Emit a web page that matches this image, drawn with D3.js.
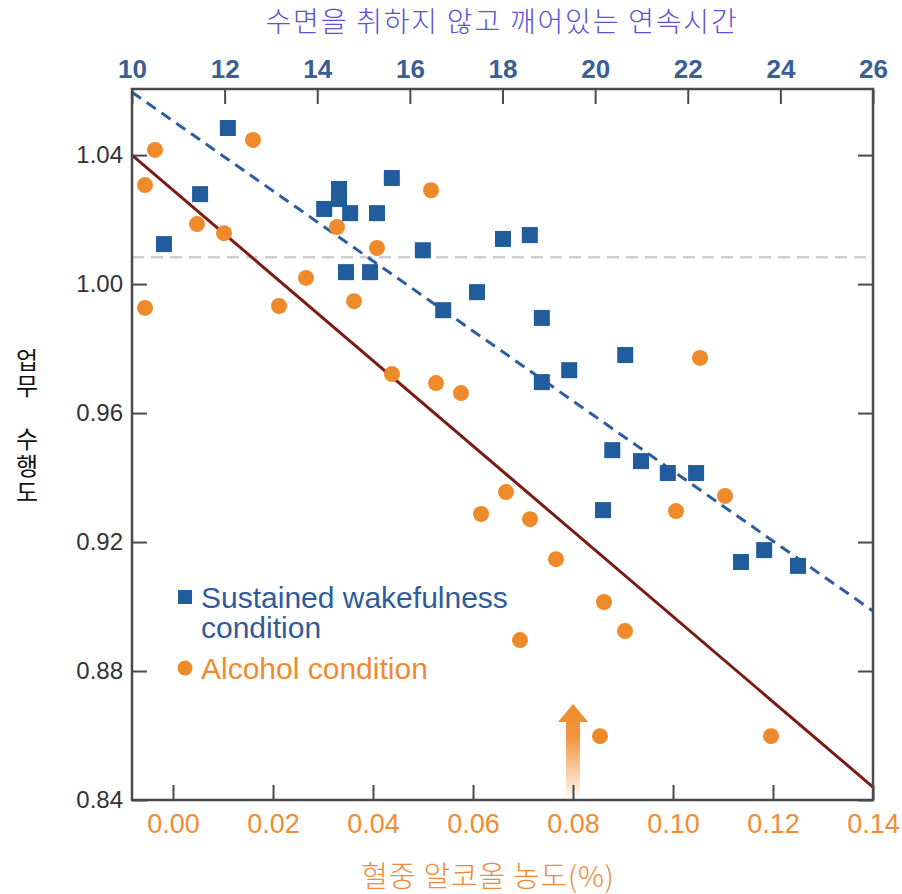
<!DOCTYPE html>
<html><head><meta charset="utf-8">
<script src="https://cdn.jsdelivr.net/npm/d3@7"></script>
<style>
html,body{margin:0;padding:0;background:#fff;}
svg{display:block;}
</style></head>
<body>
<svg id="chart" width="902" height="894"></svg>
<script>
// ---- data ----
const wakeHours = [10.69, 11.47, 12.07, 14.15, 14.47, 14.47, 14.71, 15.29, 15.61, 14.62, 15.14, 16.28, 16.72, 17.45, 18.01, 18.59, 18.85, 18.85, 19.44, 20.65, 20.37, 20.99, 21.57, 22.18, 20.17, 23.15, 23.65, 24.38];
const wakePerf  = [1.0124, 1.0279, 1.0484, 1.0233, 1.0295, 1.0264, 1.0220, 1.0220, 1.0329, 1.0037, 1.0037, 1.0105, 0.9919, 0.9975, 1.0140, 1.0152, 0.9895, 0.9696, 0.9733, 0.9780, 0.9485, 0.9451, 0.9414, 0.9414, 0.9299, 0.9138, 0.9175, 0.9126];
const alcBAC  = [-0.0036, -0.0056, 0.0048, 0.0102, 0.0160, -0.0056, 0.0212, 0.0266, 0.0328, 0.0362, 0.0408, 0.0516, 0.0438, 0.0526, 0.0576, 0.0666, 0.0616, 0.0714, 0.0766, 0.0862, 0.0904, 0.0694, 0.0854, 0.1196, 0.1006, 0.1104, 0.1054];
const alcPerf = [1.0416, 1.0307, 1.0186, 1.0158, 1.0447, 0.9926, 0.9932, 1.0019, 1.0177, 0.9947, 1.0112, 1.0291, 0.9721, 0.9693, 0.9662, 0.9355, 0.9287, 0.9271, 0.9147, 0.9014, 0.8924, 0.8896, 0.8598, 0.8598, 0.9296, 0.9343, 0.9771];
const wakeFitHours = [10, 26];
const wakeFitPerf  = [1.0595, 0.8986];
const alcFitBAC  = [-0.0082, 0.14];
const alcFitPerf = [1.0400, 0.8440];
const baselinePerf = 1.0083;
const arrowBAC = 0.08;
const arrowPerf = [0.8405, 0.8698];
const hourTicks = [10, 12, 14, 16, 18, 20, 22, 24, 26];
const bacTicks  = [0.00, 0.02, 0.04, 0.06, 0.08, 0.10, 0.12, 0.14];
const perfTicks = [0.84, 0.88, 0.92, 0.96, 1.00, 1.04];
const topTitle = "수면을 취하지 않고 깨어있는 연속시간";
const bottomTitle = "혈중 알코올 농도(%)";
const yTitle = "업무 수행도";
const legendWake = ["Sustained wakefulness", "condition"];
const legendAlc = "Alcohol condition";

// ---- layout ----
const L = 132, R = 873, T = 89, B = 800;
const svg = d3.select("#chart");
const xB = d3.scaleLinear().domain([-0.0082, 0.14]).range([L, R]);
const xH = d3.scaleLinear().domain([10, 26]).range([L, R]);
const y  = d3.scaleLinear().domain([0.84, 1.0605]).range([B, T]);

const numFont = "'Liberation Sans',Arial,sans-serif";
const cjkFont = "'Noto Sans CJK KR','Noto Sans',sans-serif";
const blue = "#215c9c", orange = "#ef8a2a";

// arrow gradient
const defs = svg.append("defs");
const grad = defs.append("linearGradient").attr("id","ag").attr("x1",0).attr("y1",0).attr("x2",0).attr("y2",1);
grad.append("stop").attr("offset","0%").attr("stop-color",orange).attr("stop-opacity",1);
grad.append("stop").attr("offset","35%").attr("stop-color",orange).attr("stop-opacity",0.9);
grad.append("stop").attr("offset","100%").attr("stop-color",orange).attr("stop-opacity",0.05);

// baseline gray dashed
svg.append("line")
  .attr("x1", L).attr("x2", R).attr("y1", y(baselinePerf)).attr("y2", y(baselinePerf))
  .attr("stroke","#cfcfcf").attr("stroke-width",2.5).attr("stroke-dasharray","12,7");

// arrow
{
  const ax = xB(arrowBAC), yb = y(arrowPerf[0]), yt = y(arrowPerf[1]);
  const sw = 7, hw = 15, hh = 18;
  const p = `M${ax-sw},${yb} L${ax-sw},${yt+hh} L${ax-hw},${yt+hh} L${ax},${yt} L${ax+hw},${yt+hh} L${ax+sw},${yt+hh} L${ax+sw},${yb} Z`;
  svg.append("path").attr("d", p).attr("fill","url(#ag)");
}

// regression lines
svg.append("path")
  .datum(d3.zip(alcFitBAC, alcFitPerf))
  .attr("d", d3.line().x(d=>xB(d[0])).y(d=>y(d[1])))
  .attr("stroke","#7a1c14").attr("stroke-width",3).attr("fill","none");
svg.append("path")
  .datum(d3.zip(wakeFitHours, wakeFitPerf))
  .attr("d", d3.line().x(d=>xH(d[0])).y(d=>y(d[1])))
  .attr("stroke","#2b5e9f").attr("stroke-width",3).attr("fill","none")
  .attr("stroke-dasharray","11,7");

// points
const sq = 16;
svg.append("g").selectAll("rect").data(d3.zip(wakeHours, wakePerf)).join("rect")
  .attr("x", d=>xH(d[0])-sq/2).attr("y", d=>y(d[1])-sq/2)
  .attr("width", sq).attr("height", sq).attr("fill", blue);
svg.append("g").selectAll("circle").data(d3.zip(alcBAC, alcPerf)).join("circle")
  .attr("cx", d=>xB(d[0])).attr("cy", d=>y(d[1])).attr("r", 8).attr("fill", orange);

// axes
const frameColor = "#4a4a4a";
function styleAxis(g, color, size){
  g.select(".domain").remove();
  g.selectAll(".tick line").attr("stroke", frameColor).attr("stroke-width", 2);
  g.selectAll(".tick text").attr("fill", color).attr("font-family", numFont).attr("font-size", size);
}
const gb = svg.append("g").attr("transform",`translate(0,${B})`)
  .call(d3.axisBottom(xB).tickValues(bacTicks).tickFormat(d3.format(".2f")).tickSizeInner(-15).tickSizeOuter(0).tickPadding(14));
styleAxis(gb, "#f08c34", 27);
const gt = svg.append("g").attr("transform",`translate(0,${T})`)
  .call(d3.axisTop(xH).tickValues(hourTicks).tickFormat(d3.format("d")).tickSizeInner(-15).tickSizeOuter(0).tickPadding(11));
styleAxis(gt, "#3a5f96", 26);
gt.selectAll(".tick text").attr("font-weight","bold");
const gl = svg.append("g").attr("transform",`translate(${L},0)`)
  .call(d3.axisLeft(y).tickValues(perfTicks).tickFormat(d3.format(".2f")).tickSizeInner(-15).tickSizeOuter(0).tickPadding(9));
styleAxis(gl, "#333", 24);
const gr = svg.append("g").attr("transform",`translate(${R},0)`)
  .call(d3.axisRight(y).tickValues(perfTicks).tickFormat("").tickSizeInner(-15).tickSizeOuter(0));
styleAxis(gr, "#333", 24);

// frame
svg.append("rect").attr("x", L).attr("y", T).attr("width", R-L).attr("height", B-T)
  .attr("fill","none").attr("stroke", frameColor).attr("stroke-width", 2.5);

// titles
svg.append("text").attr("x", 502).attr("y", 32).attr("text-anchor","middle")
  .attr("font-family", cjkFont).attr("font-size", 28).attr("font-weight", 300)
  .attr("letter-spacing", 1.8)
  .attr("fill","#5a52d4").text(topTitle);
svg.append("text").attr("x", 488).attr("y", 887).attr("text-anchor","middle")
  .attr("font-family", cjkFont).attr("font-size", 29).attr("font-weight", 300)
  .attr("letter-spacing", 0.8)
  .attr("fill","#ef8a3a").text(bottomTitle);

// y title: vertical text, upright glyphs, one text run
svg.append("text")
  .attr("x", 27).attr("y", 427)
  .attr("text-anchor","middle")
  .attr("font-family", cjkFont).attr("font-size", 24)
  .attr("letter-spacing", 2.5)
  .style("writing-mode","vertical-rl")
  .style("text-orientation","upright")
  .attr("fill","#111").text(yTitle);

// legend
const legFont = "'Liberation Sans',Arial,Helvetica,sans-serif";
svg.append("rect").attr("x", 178).attr("y", 590).attr("width", 14).attr("height", 14).attr("fill", blue);
svg.append("text").attr("x", 201).attr("y", 608).attr("font-family", legFont).attr("font-size", 30)
  .attr("fill","#2f5b9c").text(legendWake[0]);
svg.append("text").attr("x", 201).attr("y", 638).attr("font-family", legFont).attr("font-size", 30)
  .attr("fill","#2f5b9c").text(legendWake[1]);
svg.append("circle").attr("cx", 185).attr("cy", 668).attr("r", 7.5).attr("fill", orange);
svg.append("text").attr("x", 201).attr("y", 679).attr("font-family", legFont).attr("font-size", 30)
  .attr("fill","#ef8a2e").text(legendAlc);
</script>
</body></html>
